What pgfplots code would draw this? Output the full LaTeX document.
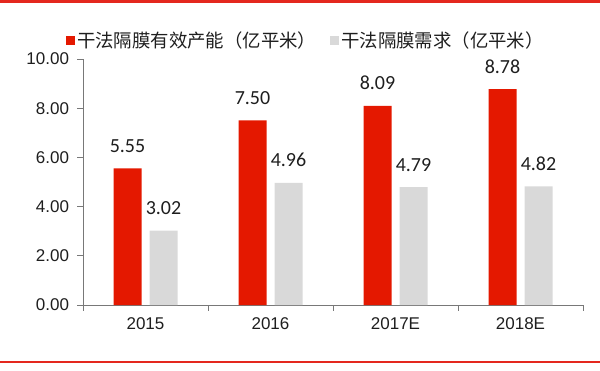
\documentclass[border=0pt]{standalone}
\usepackage{pgfplots}
\pgfplotsset{compat=1.18}
\usepackage{fontspec}
\setmainfont{Liberation Sans}
\newfontfamily\cjk{Noto Sans CJK SC}
\newfontfamily\carlito{Carlito}
\definecolor{barred}{RGB}{228,24,0}
\definecolor{bargray}{RGB}{217,217,217}
\definecolor{linered}{RGB}{228,40,30}
\definecolor{axisgray}{RGB}{120,120,120}
\definecolor{txt}{RGB}{30,30,30}
\begin{document}
\begin{tikzpicture}[x=1pt,y=1pt]
\useasboundingbox (0,0) rectangle (600,370);
\fill[linered] (0,367) rectangle (600,369.5);
\fill[linered] (0,7) rectangle (600,9);
\begin{axis}[
  at={(83pt,65pt)}, anchor=south west,
  scale only axis, width=500pt, height=246pt,
  ybar=8pt, bar width=28pt,
  xmin=-0.5, xmax=3.5, ymin=0, ymax=10,
  xtick={-0.5,0.5,1.5,2.5,3.5},
  xticklabels={2015,2016,2017E,2018E},
  x tick label as interval,
  ytick={0,2,4,6,8,10},
  axis x line*=bottom, axis y line*=left,
  axis line style={axisgray, line width=0.7pt},
  every tick/.style={axisgray, line width=0.7pt},
  tick align=outside, major tick length=5.5pt,
  tick label style={font=\fontsize{17}{20}\selectfont, text=txt},
  /pgf/number format/fixed,
  /pgf/number format/fixed zerofill,
  /pgf/number format/precision=2,
  /pgf/number format/assume math mode=true,
  yticklabel style={xshift=-5pt},
  xticklabel style={yshift=-4pt},
  nodes near coords,
  every node near coord/.append style={font=\carlito\fontsize{20}{22}\selectfont, text=txt, anchor=base, yshift=16pt},
  legend style={at={(0.446,1.077)}, anchor=center, draw=none, fill=none,
    legend columns=2, font=\cjk\fontsize{18.4}{20}\selectfont, text=txt,
    /tikz/every even column/.append style={column sep=12pt},
    inner sep=0pt},
  legend image code/.code={\fill[#1] (-2pt,-4.5pt) rectangle (7pt,4.5pt);},
  clip=false,
]
\addplot[fill=barred, draw=none] coordinates {(0,5.55) (1,7.50) (2,8.09) (3,8.78)};
\addplot[fill=bargray, draw=none] coordinates {(0,3.02) (1,4.96) (2,4.79) (3,4.82)};
\legend{干法隔膜有效产能（亿平米）, 干法隔膜需求（亿平米）}
\end{axis}
\end{tikzpicture}
\end{document}
